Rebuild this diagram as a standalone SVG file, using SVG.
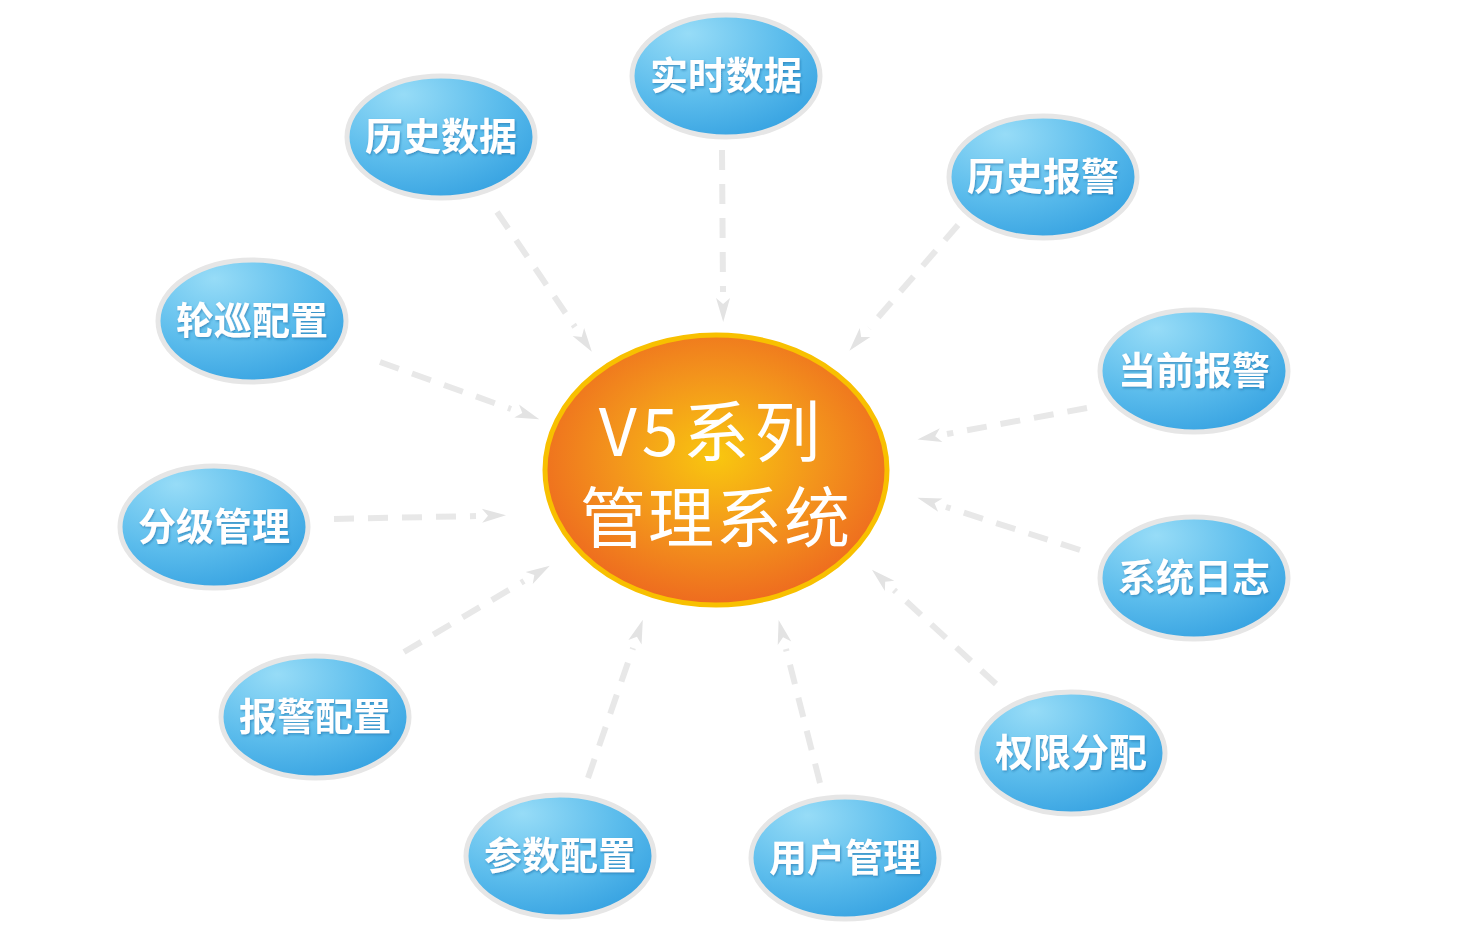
<svg xmlns="http://www.w3.org/2000/svg" width="1481" height="936" viewBox="0 0 1481 936">
<defs>
<radialGradient id="gOrange" cx="50%" cy="45%" r="55%">
<stop offset="0" stop-color="#f9c70f"/>
<stop offset="0.55" stop-color="#f3941c"/>
<stop offset="1" stop-color="#ee6b1f"/>
</radialGradient>
<radialGradient id="gBlue" cx="30%" cy="20%" r="85%" fx="30%" fy="15%">
<stop offset="0" stop-color="#97dcf7"/>
<stop offset="0.6" stop-color="#5bbcec"/>
<stop offset="1" stop-color="#39a4e2"/>
</radialGradient>
<filter id="ts" x="-10%" y="-10%" width="120%" height="130%">
<feDropShadow dx="1" dy="1.5" stdDeviation="1" flood-color="#1c6fa8" flood-opacity="0.6"/>
</filter>
<marker id="arr" markerUnits="userSpaceOnUse" markerWidth="30" markerHeight="20" viewBox="0 -10 30 20" refX="-6" refY="0" orient="auto" overflow="visible">
<path d="M0,-7 L24,0 L0,7 L6,0 Z" fill="#e3e3e3"/>
</marker>
<style>
.c{fill:none;stroke:#e8e8e8;stroke-width:6;stroke-dasharray:20 14;marker-end:url(#arr)}
.n{fill:url(#gBlue);stroke:#e6e6e6;stroke-width:5}
.t{font-family:"Noto Sans CJK SC",sans-serif;font-weight:bold;font-size:38px;fill:#fff;text-anchor:middle;filter:url(#ts)}
.ct{font-family:"Noto Sans CJK SC",sans-serif;font-weight:normal;font-size:66px;fill:#fff;text-anchor:middle}
</style>
</defs>
<rect width="1481" height="936" fill="#fff"/>
<g id="connectors">
<line class="c" x1="722" y1="150" x2="723" y2="292"/>
<line class="c" x1="497" y1="212" x2="575" y2="327"/>
<line class="c" x1="958" y1="225" x2="869" y2="328"/>
<line class="c" x1="380" y1="362" x2="511" y2="409"/>
<line class="c" x1="1087" y1="408" x2="947" y2="434"/>
<line class="c" x1="334" y1="519" x2="476" y2="516"/>
<line class="c" x1="1080" y1="550" x2="946" y2="507"/>
<line class="c" x1="404" y1="652" x2="524" y2="581"/>
<line class="c" x1="996" y1="684" x2="894" y2="590"/>
<line class="c" x1="588" y1="778" x2="633" y2="648"/>
<line class="c" x1="820" y1="783" x2="786" y2="649"/>
</g>
<g id="center">
<ellipse cx="716" cy="470" rx="171" ry="135" fill="url(#gOrange)" stroke="#f8c000" stroke-width="5"/>
<text class="ct"><tspan x="712" y="456" letter-spacing="5">V5系列</tspan><tspan x="716" y="542" letter-spacing="2">管理系统</tspan></text>
</g>
<g id="n1"><ellipse class="n" cx="726" cy="76" rx="94" ry="61"/><text class="t" x="726" y="89">实时数据</text></g>
<g id="n2"><ellipse class="n" cx="441" cy="137" rx="94" ry="61"/><text class="t" x="441" y="150">历史数据</text></g>
<g id="n3"><ellipse class="n" cx="1043" cy="177" rx="94" ry="61"/><text class="t" x="1043" y="190">历史报警</text></g>
<g id="n4"><ellipse class="n" cx="252" cy="321" rx="94" ry="61"/><text class="t" x="252" y="334">轮巡配置</text></g>
<g id="n5"><ellipse class="n" cx="1194" cy="371" rx="94" ry="61"/><text class="t" x="1194" y="384">当前报警</text></g>
<g id="n6"><ellipse class="n" cx="214" cy="527" rx="94" ry="61"/><text class="t" x="214" y="540">分级管理</text></g>
<g id="n7"><ellipse class="n" cx="1194" cy="578" rx="94" ry="61"/><text class="t" x="1194" y="591">系统日志</text></g>
<g id="n8"><ellipse class="n" cx="315" cy="717" rx="94" ry="61"/><text class="t" x="315" y="730">报警配置</text></g>
<g id="n9"><ellipse class="n" cx="1071" cy="753" rx="94" ry="61"/><text class="t" x="1071" y="766">权限分配</text></g>
<g id="n10"><ellipse class="n" cx="560" cy="856" rx="94" ry="61"/><text class="t" x="560" y="869">参数配置</text></g>
<g id="n11"><ellipse class="n" cx="845" cy="858" rx="94" ry="61"/><text class="t" x="845" y="871">用户管理</text></g>
</svg>
